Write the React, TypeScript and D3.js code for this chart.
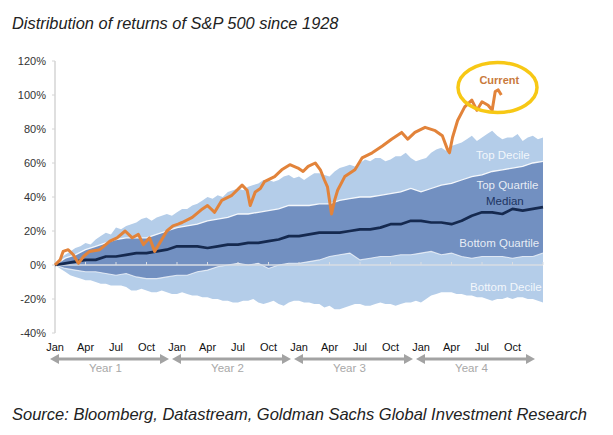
import React from "react";
import * as d3 from "d3";

// Month index 0..48 over the four years
const months = d3.range(49);
// Half-month steps 0..96 for the decile edges
const halfMonths = d3.range(97);

const topDecile = [0, 4, 6, 8, 10, 11, 13, 12, 15, 17, 19, 18, 22, 21, 23, 24, 25, 27, 28, 26, 28, 29, 30, 29, 31, 33, 33, 35, 36, 38, 40, 39, 41, 40, 43, 44, 45, 44, 46, 47, 48, 50, 50, 49, 50, 52, 53, 51, 52, 50, 52, 54, 54, 53, 52, 55, 57, 58, 59, 58, 60, 62, 61, 63, 63, 61, 62, 64, 64, 66, 63, 61, 62, 63, 66, 68, 69, 67, 70, 71, 72, 74, 76, 73, 75, 77, 79, 76, 74, 75, 75, 77, 73, 75, 76, 74, 75];
const topQuartile = [0, 4, 6, 9, 11, 13, 15, 16, 16, 16, 18, 20, 22, 23, 24, 26, 27, 28, 30, 30, 31, 32, 33, 35, 35, 35, 36, 36, 38, 39, 40, 40, 41, 42, 43, 45, 43, 45, 47, 48, 50, 52, 53, 55, 56, 57, 58, 60, 61];
const median = [0, 1, 2, 3, 3, 5, 5, 6, 7, 7, 8, 9, 11, 11, 11, 10, 11, 12, 12, 13, 13, 14, 15, 17, 17, 18, 19, 19, 19, 20, 21, 21, 22, 24, 24, 26, 26, 25, 25, 24, 26, 29, 31, 31, 30, 33, 32, 33, 34];
const bottomQuartile = [0, -2, -3, -4, -4, -5, -6, -5, -7, -8, -8, -7, -6, -6, -4, -3, -1, 0, 1, 0, 1, -2, 0, 1, 1, 2, 3, 5, 6, 7, 3, 4, 5, 5, 6, 6, 7, 8, 6, 7, 5, 4, 5, 5, 5, 4, 5, 5, 7];
const bottomDecile = [0, -2, -4, -6, -7, -8, -9, -9, -10, -11, -11, -12, -12, -12, -13, -15, -15, -14, -15, -16, -16, -15, -16, -17, -17, -16, -17, -18, -18, -19, -19, -20, -20, -21, -21, -22, -22, -21, -21, -20, -22, -23, -22, -21, -23, -24, -22, -21, -21, -22, -22, -23, -23, -25, -24, -26, -26, -25, -24, -23, -23, -24, -24, -23, -22, -23, -23, -24, -23, -22, -22, -21, -22, -20, -18, -17, -16, -16, -16, -17, -17, -18, -18, -19, -19, -20, -21, -20, -20, -19, -20, -19, -19, -20, -20, -21, -22];

// Current path (month position, return %)
const currentMonths = [0, 0.5, 0.8, 1.3, 1.8, 2.3, 2.8, 3.4, 4.4, 5.4, 6.1, 6.9, 7.6, 8.2, 8.7, 9.3, 9.8, 10.3, 11.0, 11.6, 12.1, 12.5, 13.5, 14.5, 15.0, 15.7, 16.4, 17.4, 18.4, 18.9, 19.2, 19.7, 20.2, 20.6, 21.6, 22.3, 23.1, 23.9, 24.4, 24.9, 25.6, 26.1, 26.5, 26.8, 27.2, 27.5, 27.8, 28.5, 29.5, 30.2, 31.2, 32.2, 33.1, 34.1, 34.7, 35.4, 36.4, 37.4, 38.1, 38.6, 38.8, 39.1, 39.6, 40.3, 41.0, 41.5, 42.0, 42.6, 43.0, 43.3, 43.6, 43.9];
const currentValues = [0, 3, 8, 9, 6, 1, 5, 8, 9, 14, 16, 20, 16, 18, 12, 16, 8, 13, 20, 23, 24, 25, 28, 33, 35, 31, 38, 41, 47, 44, 35, 43, 45, 49, 52, 56, 59, 57, 55, 58, 60, 56, 50, 46, 30, 38, 44, 52, 56, 63, 66, 70, 74, 78, 74, 78, 81, 79, 76, 68, 66, 75, 85, 93, 97, 91, 96, 94, 91, 102, 103, 100];

const yTicks = [-40, -20, 0, 20, 40, 60, 80, 100, 120];
const monthTickIndex = [0, 3, 6, 9, 12, 15, 18, 21, 24, 27, 30, 33, 36, 39, 42, 45];
const monthTickLabels = ["Jan", "Apr", "Jul", "Oct", "Jan", "Apr", "Jul", "Oct", "Jan", "Apr", "Jul", "Oct", "Jan", "Apr", "Jul", "Oct"];
const yearLabels = ["Year 1", "Year 2", "Year 3", "Year 4"];

const FONT = "'Liberation Sans', Arial, sans-serif";

export default function App() {
  const W = 613;
  const H = 435;
  const x = d3.scaleLinear().domain([0, 48]).range([55, 543]);
  const y = d3.scaleLinear().domain([-40, 120]).range([333, 61]);

  const outerBand = d3
    .area<number>()
    .x((d) => x(d / 2))
    .y0((d) => y(bottomDecile[d]))
    .y1((d) => y(topDecile[d]));
  const innerBand = d3
    .area<number>()
    .x((d) => x(d))
    .y0((d) => y(bottomQuartile[d]))
    .y1((d) => y(topQuartile[d]));
  const lineOf = (arr: number[]) =>
    d3
      .line<number>()
      .x((d) => x(d))
      .y((d) => y(arr[d]))(months) as string;
  const currentLine = d3
    .line<number>()
    .x((d) => x(currentMonths[d]))
    .y((d) => y(currentValues[d]))(d3.range(currentMonths.length)) as string;

  const arrowY = 359;
  const gray = "#a3a3a3";

  return (
    <svg
      width={W}
      height={H}
      style={{ position: "absolute", left: 0, top: 0, background: "#fff" }}
      fontFamily={FONT}
    >
      <text x={12} y={29} fontSize={16.4} fontStyle="italic" fill="#222">
        Distribution of returns of S&amp;P 500 since 1928
      </text>

      {/* bands */}
      <path d={outerBand(halfMonths) as string} fill="#b4cde9" />
      <path d={innerBand(months) as string} fill="#7290c1" />
      <path d={lineOf(topQuartile)} fill="none" stroke="#ffffff" strokeWidth={1.3} opacity={0.9} />
      <path d={lineOf(bottomQuartile)} fill="none" stroke="#ffffff" strokeWidth={1.1} opacity={0.7} />

      {/* zero line */}
      <line x1={x(0)} x2={x(48)} y1={y(0)} y2={y(0)} stroke="#d9dde3" strokeWidth={1.5} />
      {months.filter((m) => m % 3 === 0 && m > 0).map((m) => (
        <line key={"zt" + m} x1={x(m)} x2={x(m)} y1={y(0)} y2={y(0) - 3} stroke="#d9dde3" strokeWidth={1} />
      ))}

      {/* y axis */}
      <line x1={x(0)} x2={x(0)} y1={y(120)} y2={y(-40)} stroke="#d4d4d4" strokeWidth={1.5} />
      {yTicks.map((t) => (
        <g key={"yt" + t}>
          <line x1={x(0) - 3} x2={x(0)} y1={y(t)} y2={y(t)} stroke="#d4d4d4" strokeWidth={1} />
          <text x={46} y={y(t) + 4} fontSize={11} textAnchor="end" fill="#333">
            {t}%
          </text>
        </g>
      ))}

      {/* median & current */}
      <path d={lineOf(median)} fill="none" stroke="#15294f" strokeWidth={2.7} strokeLinejoin="round" />
      <path d={currentLine} fill="none" stroke="#e2833a" strokeWidth={3} strokeLinejoin="round" />

      {/* band labels */}
      <g fontSize={11.5} textAnchor="middle" fill="#ffffff" fillOpacity={0.85}>
        <text x={x(44.05)} y={y(62.4)}>Top Decile</text>
        <text x={x(44.5)} y={y(44.7)}>Top Quartile</text>
        <text x={x(43.7)} y={y(10.6)}>Bottom Quartile</text>
        <text x={x(44.35)} y={y(-15.3)}>Bottom Decile</text>
      </g>
      <text x={x(44.25)} y={y(35.3)} fontSize={11.5} textAnchor="middle" fill="#1d3461">
        Median
      </text>
      <text x={x(43.7)} y={y(106.5)} fontSize={11} fontWeight="bold" textAnchor="middle" fill="#c97a3c">
        Current
      </text>
      <ellipse cx={497.5} cy={87.5} rx={39.5} ry={25} fill="none" stroke="#f7c815" strokeWidth={3.5} />

      {/* month labels */}
      {monthTickIndex.map((m, i) => (
        <text key={"ml" + i} x={x(m)} y={351} fontSize={11} textAnchor="middle" fill="#111">
          {monthTickLabels[i]}
        </text>
      ))}

      {/* year arrows */}
      {yearLabels.map((lab, i) => {
        const x1 = x(i * 12) - 5;
        const x2 = x(i * 12 + 12) - 8;
        return (
          <g key={lab}>
            <line x1={x1 + 6} x2={x2 - 6} y1={arrowY} y2={arrowY} stroke={gray} strokeWidth={3} />
            <path d={`M${x1},${arrowY} L${x1 + 9},${arrowY - 5} L${x1 + 9},${arrowY + 5} Z`} fill={gray} />
            <path d={`M${x2},${arrowY} L${x2 - 9},${arrowY - 5} L${x2 - 9},${arrowY + 5} Z`} fill={gray} />
            <text x={(x1 + x2) / 2 - 4} y={372} fontSize={11.5} textAnchor="middle" fill="#a8a8a8">
              {lab}
            </text>
          </g>
        );
      })}

      <text x={12} y={420} fontSize={16.5} fontStyle="italic" fill="#222">
        Source: Bloomberg, Datastream, Goldman Sachs Global Investment Research
      </text>
    </svg>
  );
}
